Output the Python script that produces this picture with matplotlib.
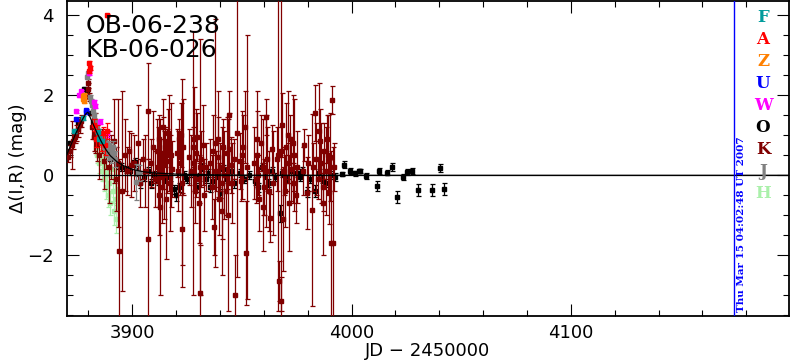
import matplotlib
matplotlib.use('Agg')
import matplotlib.pyplot as plt
from matplotlib.ticker import MultipleLocator

# ---- data ----
# model curve
curve_jd = [3870, 3871, 3872, 3873, 3874, 3875, 3876, 3877, 3878, 3879, 3879.8,
            3881, 3882, 3884, 3886, 3888, 3890, 3893, 3896, 3900, 3905, 3910,
            3920, 3930, 3940, 3960, 4000, 4050, 4100, 4200]
curve_mag = [0.5, 0.63, 0.76, 0.89, 1.02, 1.14, 1.26, 1.37, 1.47, 1.55, 1.58,
             1.42, 1.3, 1.05, 0.83, 0.64, 0.49, 0.34, 0.24, 0.15, 0.09, 0.06,
             0.03, 0.02, 0.01, 0.0, 0.0, 0.0, 0.0, 0.0]

# K (dark red)
k_jd = [3870.5, 3871.5, 3872.5, 3873.0, 3873.8, 3874.5, 3875.2, 3876.0, 3876.8, 3879.6, 3879.9, 3880.3,
        3881.5, 3882.5, 3883.0, 3884.0, 3885.0, 3886.2, 3887.0, 3888.0, 3889.5, 3890.5, 3891.5, 3892.5,
        3893.5, 3894.0, 3895.2, 3896.5, 3897.5, 3898.5, 3899.5, 3901.0, 3902.7, 3903.5, 3905.0, 3906.0,
        3907.0, 3907.3, 3908.5, 3909.5, 3910.5,
        3911.2, 3911.8, 3912.3, 3912.6, 3913.0, 3913.5, 3914.0, 3914.5, 3915.0, 3915.4, 3916.0, 3916.5,
        3917.0, 3917.5, 3918.2, 3912.0, 3914.2, 3916.8,
        3920.5, 3921.2, 3921.8, 3922.5, 3922.8, 3923.3, 3920.9, 3922.2,
        3926.0, 3926.8, 3927.5, 3927.8, 3928.5, 3929.0, 3929.7, 3930.2, 3930.9, 3931.1, 3931.5, 3932.2,
        3932.8, 3933.5, 3928.1, 3930.6,
        3935.5, 3936.2, 3936.8, 3937.4, 3937.7, 3938.3, 3938.9, 3939.5, 3940.2, 3940.8, 3941.4, 3942.0,
        3942.6, 3943.2, 3943.6, 3944.3, 3944.9, 3945.5, 3946.3, 3947.0, 3947.9, 3939.0, 3941.0, 3944.0,
        3949.0, 3949.8, 3950.5, 3951.2, 3951.8, 3952.2, 3950.1,
        3955.5, 3956.2, 3956.7, 3957.4, 3958.0, 3958.7, 3959.4, 3960.1, 3960.9, 3961.6, 3962.3, 3962.8,
        3963.5, 3964.3, 3957.0, 3959.8, 3961.2,
        3966.0, 3966.6, 3966.8, 3967.7, 3967.9, 3968.5, 3969.0, 3969.6, 3970.2, 3970.8, 3971.4, 3972.0,
        3972.6, 3973.2, 3973.8, 3974.5, 3975.2, 3968.8, 3971.0, 3973.5,
        3977.7, 3978.5, 3979.5, 3980.2,
        3981.8, 3982.6, 3983.3, 3984.0, 3984.8, 3985.5, 3986.2, 3986.9, 3987.6, 3988.3, 3989.0, 3989.6,
        3990.2, 3990.5, 3991.2, 3991.5, 3992.0, 3985.0, 3987.2, 3989.3]
k_mag = [0.45, 0.62, 0.75, 0.85, 0.95, 1.05, 1.15, 1.25, 1.35, 2.15, 2.3, 1.95,
         1.2, 0.95, 1.05, 0.75, 0.5, 0.85, 0.35, 0.6, 0.2, 0.45, 0.85, -0.1,
         0.3, -1.9, -0.4, 0.5, 0.1, 0.6, 0.25, 0.3, 0.8, -0.2, 0.4, 0.1,
         1.6, -1.6, 0.3, 0.7, -0.1,
         0.6, 0.2, 0.9, -0.8, 0.4, -0.3, 1.2, 0.0, 0.7, -0.6, 0.35, 1.05,
         -0.2, 0.5, 0.15, -0.5, 0.55, 0.8,
         0.55, 0.9, 0.3, -0.2, -1.35, 0.7, 0.1, 1.0,
         0.45, 0.1, 0.7, 0.3, -0.4, 0.55, 0.95, -0.1, 0.2, -2.95, 0.4, 0.75,
         -0.5, 0.2, 0.9, -0.7,
         0.3, -0.3, 0.6, -1.3, 0.8, 0.1, 0.45, -0.6, 0.2, -0.9, 0.7, 0.0,
         -0.4, 0.55, -1.0, 1.5, 0.25, -0.2, 0.4, -3.0, 1.05, 0.9, -0.2, 0.65,
         0.35, -0.15, 0.7, 1.2, -1.95, 0.2, 0.5,
         0.3, -0.1, 0.5, 0.0, -0.6, 0.8, 0.2, -0.3, 1.45, 0.4, -0.4, -1.07,
         0.65, -0.2, 0.9, -0.8, 0.1,
         0.4, 0.5, -2.65, 0.6, -3.15, 1.25, 0.1, -0.4, 0.7, 0.3, -0.7, 0.9,
         0.15, -0.2, 0.5, -0.5, 0.2, -1.1, 1.0, 0.8,
         0.1, 0.75, -0.45, 0.3,
         -0.87, 0.2, 1.55, 0.4, -0.1, 0.85, 0.3, -0.3, 0.6, 0.1, 0.9, -0.42,
         0.45, -1.7, 1.88, -1.7, 0.2, 1.1, -0.7, 0.5]
k_err = [0.12, 0.15, 0.6, 0.2, 0.15, 0.2, 0.2, 0.2, 0.15, 0.15, 0.12, 0.1,
         0.3, 0.35, 0.5, 0.4, 0.6, 0.3, 0.7, 0.45, 0.9, 0.55, 1.05, 0.8,
         1.6, 2.3, 2.5, 0.9, 0.6, 0.5, 0.8, 0.7, 0.95, 0.6, 0.5, 0.9,
         1.2, 2.0, 0.6, 0.9, 0.7,
         0.8, 1.0, 0.6, 2.2, 0.5, 0.9, 0.7, 1.1, 0.5, 1.5, 0.8, 0.6,
         1.2, 1.3, 0.7, 1.0, 0.9, 1.2,
         0.6, 0.5, 0.8, 2.6, 0.9, 1.2, 1.0, 0.8,
         0.7, 0.9, 0.5, 3.3, 0.8, 1.1, 0.6, 0.6, 3.2, 1.2, 0.7, 1.0,
         0.9, 0.6, 1.3, 1.0,
         0.6, 0.8, 0.9, 0.7, 3.1, 0.5, 1.0, 0.9, 0.6, 1.6, 0.7, 1.1,
         0.6, 0.9, 2.4, 0.6, 0.7, 1.0, 0.5, 1.0, 3.6, 1.2, 1.4, 0.9,
         0.7, 0.5, 0.8, 0.9, 1.3, 3.3, 1.1,
         0.9, 0.6, 1.1, 0.5, 0.8, 0.7, 1.2, 0.7, 0.45, 0.8, 1.0, 0.6,
         0.6, 1.3, 1.2, 1.1, 1.4,
         0.8, 3.9, 0.5, 4.0, 0.6, 0.8, 0.6, 0.9, 1.1, 0.5, 1.2, 0.6,
         0.8, 0.5, 1.4, 0.7, 0.9, 1.3, 1.1, 1.2,
         0.6, 0.4, 0.9, 0.7,
         2.4, 0.6, 0.7, 0.9, 0.5, 0.8, 1.0, 0.6, 0.7, 1.1, 0.6, 0.8,
         1.1, 2.3, 0.35, 2.4, 0.6, 1.2, 1.3, 1.0]

# O (black)
o_jd = [3871.6, 3875.4, 3878.0, 3879.5, 3880.7, 3882.2, 3884.5, 3888.3, 3889.8,
        3893.5, 3895.0, 3897.0, 3899.0, 3900.3, 3901.2, 3902.3, 3903.5, 3905.5, 3907.0, 3908.5,
        3910.0, 3911.5, 3913.0, 3915.0, 3917.0, 3918.8, 3920.0, 3921.5, 3923.5, 3925.0,
        3927.0, 3929.0, 3930.5, 3932.0, 3933.5, 3934.5, 3935.5, 3937.0, 3938.5, 3940.0,
        3941.5, 3943.0, 3945.0, 3946.5, 3949.0, 3951.0, 3953.0, 3956.0, 3957.5, 3959.0,
        3960.5, 3962.0, 3963.5, 3965.0, 3967.3, 3968.5, 3970.5, 3972.5, 3975.0, 3976.5,
        3977.5, 3979.5, 3981.0, 3983.3, 3985.0, 3986.5, 3988.0, 3990.0, 3992.5,
        3995.5, 3996.4, 3999.2, 4001.5, 4003.6, 4004.0, 4006.4, 4011.4, 4012.5, 4016.3,
        4018.6, 4020.6, 4023.6, 4025.4, 4027.4, 4030.4, 4036.5, 4040.3, 4042.3]
o_mag = [0.8, 1.3, 2.17, 2.1, 1.55, 1.34, 0.88, 0.55, 0.42,
         0.25, 0.2, 0.15, 0.1, 0.3, 0.34, 0.09, -0.2, -0.05, 0.1, -0.2,
         0.0, -0.15, 0.05, -0.1, -0.05, -0.35, -0.5, -0.3, 0.0, -0.1,
         0.05, -0.3, -0.05, 0.2, -0.1, 0.05, -0.3, -0.15, 0.0, -0.45,
         0.15, -0.1, 0.1, -0.2, 0.05, -0.1, 0.0, -0.15, -0.3, 0.2,
         0.0, -0.2, 0.1, -0.05, -0.95, 0.05, -0.1, 0.1, 0.05, -0.05,
         0.12, -0.41, -0.1, -0.38, 0.05, -0.1, -0.2, 0.0, -0.05,
         0.03, 0.27, 0.11, 0.05, 0.11, 0.12, -0.01, -0.26, 0.11, 0.07,
         0.21, -0.55, -0.04, 0.09, 0.11, -0.37, -0.37, 0.19, -0.35]
o_err = [0.05, 0.05, 0.05, 0.05, 0.05, 0.05, 0.06, 0.06, 0.07,
         0.08, 0.1, 0.08, 0.1, 0.08, 0.1, 0.1, 0.12, 0.1, 0.1, 0.12,
         0.1, 0.1, 0.12, 0.1, 0.1, 0.12, 0.15, 0.12, 0.1, 0.1,
         0.1, 0.12, 0.1, 0.1, 0.1, 0.1, 0.12, 0.1, 0.1, 0.12,
         0.1, 0.1, 0.1, 0.12, 0.1, 0.1, 0.1, 0.1, 0.12, 0.1,
         0.1, 0.1, 0.1, 0.1, 0.22, 0.1, 0.1, 0.1, 0.1, 0.1,
         0.08, 0.12, 0.1, 0.15, 0.1, 0.1, 0.1, 0.1, 0.1,
         0.05, 0.08, 0.07, 0.07, 0.05, 0.05, 0.08, 0.12, 0.07, 0.07,
         0.1, 0.15, 0.08, 0.07, 0.07, 0.15, 0.15, 0.1, 0.15]

# J (grey)
j_jd = [3879.3, 3879.6, 3880.5, 3881.0, 3881.5, 3882.0, 3882.6, 3883.2, 3883.8, 3884.5,
        3885.5, 3886.5, 3887.0, 3887.5, 3888.0, 3888.5, 3889.0, 3889.5, 3890.0, 3890.5,
        3891.0, 3891.5, 3892.0, 3901.7, 3903.0]
j_mag = [2.45, 2.55, 1.95, 1.85, 1.75, 1.62, 1.5, 1.35, 1.2, 1.1,
         0.95, 0.85, 0.7, 0.95, 0.6, 0.8, 0.5, 0.75, 0.65, 0.45,
         0.7, 0.55, 0.4, -0.16, 0.05]
j_err = [0.05, 0.05, 0.05, 0.05, 0.05, 0.06, 0.06, 0.06, 0.07, 0.07,
         0.08, 0.1, 0.1, 0.1, 0.12, 0.1, 0.12, 0.12, 0.15, 0.15,
         0.15, 0.15, 0.2, 0.45, 0.2]

# H (light green)
h_jd = [3883.0, 3883.5, 3884.0, 3884.5, 3885.0, 3885.5, 3886.0, 3886.5, 3887.0, 3887.5,
        3888.0, 3888.5, 3889.0, 3889.5, 3890.0, 3890.5, 3891.0, 3891.5, 3892.0, 3892.5, 3893.0]
h_mag = [1.0, 0.7, 0.5, 0.85, 0.3, 0.6, 0.1, 0.4, -0.1, 0.2,
         -0.3, 0.05, -0.5, -0.2, -0.7, 0.15, -0.4, -0.9, -0.1, -1.1, -0.6]
h_err = [0.15, 0.2, 0.2, 0.15, 0.25, 0.2, 0.25, 0.2, 0.3, 0.25,
         0.3, 0.2, 0.3, 0.25, 0.3, 0.2, 0.3, 0.35, 0.25, 0.35, 0.3]

# A (red)
a_jd = [3880.2, 3880.4, 3880.5, 3888.5, 3882.5, 3883.3, 3884.0, 3885.5, 3886.5, 3887.5, 3888.5]
a_mag = [2.6, 2.8, 2.68, 4.0, 1.25, 0.9, 1.1, 0.8, 1.05, 0.75, 1.1]
a_err = [0.05, 0.05, 0.05, 0.03, 0.15, 0.2, 0.15, 0.2, 0.15, 0.25, 0.2]

# W (magenta)
w_jd = [3874.2, 3875.7, 3876.5, 3880.4, 3882.7, 3883.2, 3885.3, 3888.3]
w_mag = [1.6, 2.0, 2.1, 2.56, 1.84, 1.73, 1.34, 1.05]
w_err = [0.04, 0.04, 0.04, 0.04, 0.05, 0.05, 0.06, 0.08]

# Z (orange)
z_jd = [3877.3, 3877.6, 3877.9, 3878.2]
z_mag = [1.98, 1.92, 2.02, 1.85]
z_err = [0.05, 0.05, 0.05, 0.05]

# U (blue)
u_jd = [3874.5, 3878.7, 3879.1]
u_mag = [1.4, 1.63, 1.58]
u_err = [0.04, 0.04, 0.04]

# F (teal)
f_jd = [3873.5, 3877.4, 3884.5, 3885.0, 3886.0]
f_mag = [1.1, 1.43, 1.09, 0.92, 0.85]
f_err = [0.05, 0.05, 0.06, 0.06, 0.07]

legend_labels = ['F', 'A', 'Z', 'U', 'W', 'O', 'K', 'J', 'H']
legend_colors = ['#009c9c', '#ff0000', '#ff8000', '#0000ff', '#ff00ff',
                 '#000000', '#800000', '#808080', '#aaf0aa']
now_jd = 4174.5
stamp = 'Thu Mar 15 04:02:48 UT 2007'


def draw_set(ax, x, y, e, color, z):
    ax.errorbar(x, y, yerr=e, fmt='s', ms=2.8, color=color, mfc=color, mec=color,
                ecolor=color, elinewidth=0.9, capsize=1.8, capthick=0.9, zorder=z)


fig = plt.figure(figsize=(7.9, 3.62), dpi=100)
ax = fig.add_axes([0.0842, 0.127, 0.9145, 0.870])

draw_set(ax, h_jd, h_mag, h_err, legend_colors[8], 2)
draw_set(ax, o_jd, o_mag, o_err, legend_colors[5], 3)
draw_set(ax, k_jd, k_mag, k_err, legend_colors[6], 4)
draw_set(ax, j_jd, j_mag, j_err, legend_colors[7], 5)
draw_set(ax, w_jd, w_mag, w_err, legend_colors[4], 6)
draw_set(ax, u_jd, u_mag, u_err, legend_colors[3], 6)
draw_set(ax, z_jd, z_mag, z_err, legend_colors[2], 6)
draw_set(ax, a_jd, a_mag, a_err, legend_colors[1], 7)
draw_set(ax, f_jd, f_mag, f_err, legend_colors[0], 7)

ax.plot(curve_jd, curve_mag, color='k', lw=0.9, zorder=8)
ax.axhline(0, color='k', lw=0.9, zorder=8)
ax.axvline(now_jd, color='#0000ff', lw=1.0, zorder=8)

ax.set_xlim(3870, 4199.5)
ax.set_ylim(-3.52, 4.36)

ax.xaxis.set_major_locator(MultipleLocator(100))
ax.xaxis.set_minor_locator(MultipleLocator(20))
ax.yaxis.set_major_locator(MultipleLocator(2))
ax.yaxis.set_minor_locator(MultipleLocator(0.5))
ax.tick_params(which='both', direction='in', top=True, right=True, width=0.8, labelsize=13)
ax.tick_params(which='major', length=8.5)
ax.tick_params(which='minor', length=4.2)
ax.tick_params(axis='x', pad=6)
ax.tick_params(axis='y', pad=9)
for s in ax.spines.values():
    s.set_linewidth(1.3)

ax.set_xlabel('JD \u2212 2450000', fontsize=13, labelpad=0)
ax.set_ylabel('\u0394(I,R) (mag)', fontsize=13)
ax.yaxis.set_label_coords(-0.055, 0.5)

fig.text(86 / 790, 1 - 14 / 362, 'OB-06-238', fontsize=18, va='top', ha='left')
fig.text(86 / 790, 1 - 38 / 362, 'KB-06-026', fontsize=18, va='top', ha='left')

for i, (lab, col) in enumerate(zip(legend_labels, legend_colors)):
    fig.text(763 / 790, 1 - (18 + 21.9 * i) / 362, lab, color=col, fontsize=12,
             family='DejaVu Serif', weight='bold', ha='center', va='center')

fig.text(742 / 790, 1 - 312 / 362, stamp, color='#0000ff', rotation=90, fontsize=7.5,
         family='DejaVu Serif', weight='bold', ha='center', va='bottom')

fig.savefig('out.png', dpi=100)
